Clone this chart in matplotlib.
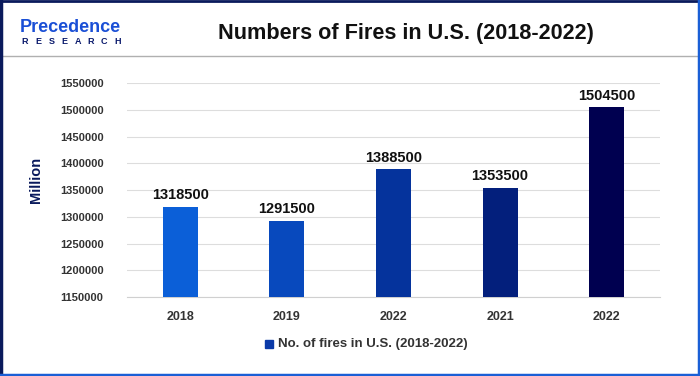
import matplotlib
matplotlib.use("Agg")
import matplotlib.pyplot as plt
from matplotlib.patches import Rectangle
from matplotlib.lines import Line2D

plt.rcParams["font.family"] = ["Liberation Sans", "DejaVu Sans"]

categories = ["2018", "2019", "2022", "2021", "2022"]
values = [1318500, 1291500, 1388500, 1353500, 1504500]
colors = ["#0b5fd8", "#0849bd", "#05339c", "#031f7c", "#000050"]
yticks = list(range(1150000, 1550001, 50000))
title = "Numbers of Fires in U.S. (2018-2022)"
series_name = "No. of fires in U.S. (2018-2022)"

W, H = 700, 376
fig = plt.figure(figsize=(W / 100, H / 100), dpi=100)
fig.patch.set_facecolor("white")

def fx(px):
    return px / W

def fy(py):
    return 1 - py / H

# axes
ax = fig.add_axes([fx(127), fy(297), fx(660) - fx(127), fy(83) - fy(297)])
x = list(range(len(categories)))
ax.bar(x, values, width=0.33, color=colors, zorder=3)
ax.set_ylim(1150000, 1550000)
ax.set_xlim(-0.5, len(categories) - 0.5)
ax.set_yticks(yticks)
ax.set_yticklabels([str(v) for v in yticks], fontsize=8, fontweight="bold", color="#333333")
ax.set_xticks(x)
ax.set_xticklabels(categories, fontsize=9, fontweight="bold", color="#333333")
ax.tick_params(axis="both", length=0)
ax.tick_params(axis="y", pad=17)
ax.tick_params(axis="x", pad=10)
ax.grid(axis="y", color="#dddddd", linewidth=0.8, zorder=0)
for s in ["top", "right", "left"]:
    ax.spines[s].set_visible(False)
ax.spines["bottom"].set_color("#d0d0d0")
for xi, v in zip(x, values):
    ax.text(xi, v + 9000, str(v), ha="center", va="bottom", fontsize=10.5,
            fontweight="bold", color="#111111")

fig.text(fx(36), fy(180), "Million", rotation=90, ha="center", va="center",
         fontsize=10.5, fontweight="bold", color="#0a1a5c")

# title
fig.text(fx(406), fy(33), title, ha="center", va="center", fontsize=15.6,
         fontweight="bold", color="#111111")

# logo
fig.text(fx(20), fy(27), "Precedence", ha="left", va="center", fontsize=13,
         fontweight="bold", color="#1a4fd6")
for i, ch in enumerate("RESEARCH"):
    fig.text(fx(25 + i * 13.2), fy(42), ch, ha="center", va="center", fontsize=6.5,
             fontweight="bold", color="#0a1a6c")

# header separator
fig.add_artist(Line2D([0, 1], [fy(56), fy(56)], color="#b0b0b0", linewidth=1.0,
                      transform=fig.transFigure))

# legend
fig.add_artist(Rectangle((fx(265), fy(348)), fx(8) - fx(0), fy(340) - fy(348),
                         transform=fig.transFigure, color="#0a3aa8"))
fig.text(fx(278), fy(344), series_name, ha="left", va="center", fontsize=9.5,
         fontweight="bold", color="#333333")

# border
fig.add_artist(Line2D([fx(1), fx(1)], [0, 1], color="#0a1a5c", linewidth=2.5,
                      transform=fig.transFigure))
fig.add_artist(Line2D([0, 1], [fy(1), fy(1)], color="#0a1a5c", linewidth=2.0,
                      transform=fig.transFigure))
fig.add_artist(Line2D([fx(699), fx(699)], [0, 1], color="#1a5fd6", linewidth=2.5,
                      transform=fig.transFigure))
fig.add_artist(Line2D([0, 1], [fy(375), fy(375)], color="#1a5fd6", linewidth=2.5,
                      transform=fig.transFigure))

fig.savefig("out.png", dpi=100)
